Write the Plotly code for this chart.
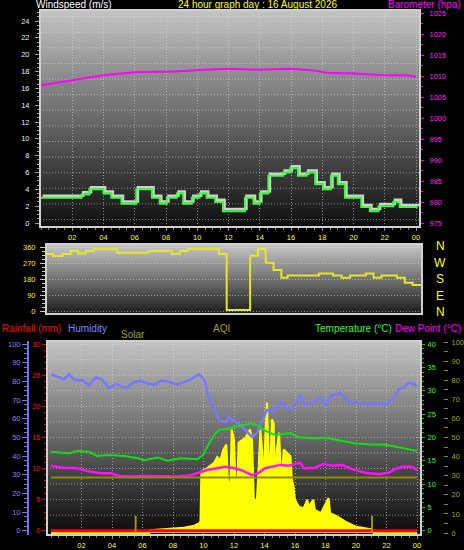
import plotly.graph_objects as go

W, H = 464, 550

# ---------------- data ----------------
hour_ticks = [2, 4, 6, 8, 10, 12, 14, 16, 18, 20, 22, 24]
hour_labels = ["02", "04", "06", "08", "10", "12", "14", "16", "18", "20", "22", "00"]

wind_hours = [0, 2.6, 3.1, 4.0, 4.5, 5.15, 6.1, 7.1, 7.6, 8.05, 8.7, 9.1, 9.65, 10.15, 10.6, 11.15, 11.65,
              13.05, 13.6, 14.0, 14.55, 15.5, 15.95, 16.45, 17.0, 17.55, 18.05, 18.55, 19.0, 19.45, 20.5,
              21.05, 21.6, 22.55, 22.95, 24.1]
wind_speed = [3.0, 3.4, 4.0, 3.5, 3.0, 2.3, 4.0, 3.0, 2.3, 3.0, 3.5, 2.3, 3.0, 3.5, 3.0, 2.5, 1.4,
              3.0, 2.3, 3.5, 5.6, 6.0, 6.5, 5.6, 6.0, 4.6, 4.0, 5.6, 4.6, 3.0, 1.9,
              1.4, 2.0, 2.5, 1.9, 1.9]

baro_hours = [0, 2, 4, 6, 8.5, 10.5, 12, 13.8, 15, 16, 17.5, 18.3, 20, 22, 23.4, 24]
baro_hpa = [1007.8, 1009.0, 1010.2, 1010.9, 1011.1, 1011.5, 1011.7, 1011.5, 1011.7, 1011.7, 1011.3,
            1010.8, 1010.6, 1010.2, 1010.2, 1009.8]

dir_hours = [0, 0.4, 1.0, 1.5, 2.0, 2.5, 3.0, 4.5, 6.5, 8.0, 8.5, 9.0, 11.0, 11.5, 13.0, 13.5, 14.0,
             14.5, 15.0, 15.4, 17.4, 18.3, 18.85, 19.4, 20.4, 20.9, 21.4, 22.4, 22.9, 23.4, 24.0]
dir_deg = [322, 311, 322, 339, 326, 340, 350, 330, 340, 322, 339, 350, 322, 10, 313, 350, 274,
           233, 190, 202, 213, 202, 190, 202, 213, 190, 202, 190, 162, 149, 149]
dir_ticks = [0, 90, 180, 270, 360]
compass = ["N", "W", "S", "E", "N"]

hum_hours = [0, 0.85, 1.18, 1.51, 2.05, 2.49, 2.93, 3.36, 3.8, 4.24, 4.9, 5.33, 5.77, 6.21, 6.75, 7.19,
             7.74, 8.28, 8.83, 9.27, 9.7, 10.03, 10.36, 10.69, 11.02, 11.45, 11.67, 12.0, 12.3, 12.85,
             13.18, 13.5, 13.84, 14.16, 14.6, 15.04, 15.37, 15.9, 16.35, 16.57, 17.1, 17.66, 17.99,
             18.43, 18.97, 19.52, 20.18, 20.83, 21.49, 22.03, 22.47, 22.8, 23.13, 23.46, 23.78, 24.0]
hum_pct = [83.9, 81.1, 83.9, 80.7, 80.7, 77.9, 82.2, 80.9, 76.3, 78.6, 76.3, 79.0, 80.3, 79.3, 78.0,
           80.3, 79.8, 78.4, 79.8, 81.6, 83.8, 81.1, 70.9, 65.6, 59.3, 58.0, 61.1, 58.4, 57.5, 53.0,
           50.3, 52.2, 58.4, 64.6, 63.7, 69.1, 65.6, 65.6, 72.7, 67.3, 68.2, 71.4, 67.3, 72.7, 73.6,
           69.1, 68.6, 67.3, 68.2, 67.8, 70.9, 75.7, 76.6, 79.3, 78.6, 77.1]

temp_hours = [0, 1.18, 1.7, 2.49, 3.0, 3.9, 4.8, 5.7, 6.1, 7.0, 7.6, 8.5, 9.6, 9.97, 10.36, 10.69,
              11.02, 11.56, 12.0, 12.52, 13.18, 13.62, 14.05, 14.7, 15.15, 15.7, 16.24, 17.1, 18.2,
              19.08, 19.96, 20.83, 21.92, 22.8, 23.46, 24.0]
temp_c = [16.9, 16.6, 17.1, 16.9, 16.0, 16.2, 16.0, 15.5, 15.1, 15.7, 15.0, 15.5, 15.3, 16.2, 18.7,
          20.5, 21.6, 21.8, 22.2, 22.5, 23.0, 22.4, 21.4, 20.5, 20.7, 20.9, 20.0, 19.8, 19.8, 19.3,
          18.7, 18.5, 18.4, 17.9, 17.4, 17.1]

dew_hours = [0, 0.85, 1.7, 2.35, 3.2, 3.9, 4.57, 5.2, 6.1, 7.19, 8.28, 9.16, 9.7, 10.25, 10.9, 11.45,
             12.0, 12.52, 13.18, 13.62, 14.05, 14.5, 15.04, 15.59, 16.35, 16.57, 17.3, 17.88, 18.43,
             19.08, 19.74, 20.6, 21.49, 22.14, 22.58, 23.01, 23.67, 24.0]
dew_c = [13.9, 13.5, 13.4, 12.8, 12.3, 12.3, 11.7, 11.6, 11.7, 11.6, 11.6, 11.9, 12.4, 13.0, 13.4,
         13.7, 13.4, 12.9, 11.9, 12.4, 13.4, 13.7, 14.1, 13.9, 14.6, 13.4, 13.5, 14.3, 13.9, 14.1,
         13.2, 12.4, 12.1, 12.4, 13.2, 13.7, 13.7, 13.0]

solar_hours = [0, 6.45, 6.5, 7.6, 8.7, 9.4, 9.7, 9.8, 9.86, 10.25, 10.69, 10.9, 11.1, 11.3, 11.5,
               11.6, 11.75, 11.85, 12.0, 12.09, 12.2, 12.3, 12.74, 13.05, 13.18, 13.3, 13.5, 13.62,
               13.73, 13.84, 13.95, 14.05, 14.16, 14.27, 14.37, 14.49, 14.6, 14.7, 14.8, 14.96, 15.1,
               15.26, 15.48, 15.7, 15.8, 15.9, 16.0, 16.25, 16.57, 16.8, 16.9, 17.2, 17.3, 17.7, 18.2,
               18.3, 18.8, 19.3, 20.0, 20.5, 21.05, 21.15, 24.0]
solar_wm2 = [0, 0, 15, 22, 28, 38, 50, 60, 323, 340, 367, 398, 380, 437, 463,
             279, 209, 542, 489, 279, 191, 472, 498, 542, 489, 174, 174, 349,
             542, 437, 262, 489, 683, 419, 314, 595, 574, 210, 437, 525, 262,
             437, 419, 402, 279, 244, 174, 138, 130, 174, 138, 174, 121, 104, 183,
             104, 86, 60, 33, 25, 19, 0, 0]

aqi_hours = [0, 24]
aqi_vals = [29, 29]
spike_hours = [5.55, 21.05]
spike_vals = [9, 9]

rain_hours = [0, 24]
rain_mm = [0, 0]

# ---------------- layout helpers ----------------
def px(x):
    return x / W


def py(y):
    return 1 - y / H


def lin_range(p0, v0, p1, v1, a, b):
    k = (v1 - v0) / (p1 - p0)
    return [v0 + (a - p0) * k, v0 + (b - p0) * k]


TOP = dict(l=40, r=420, t=10, b=227)
MID = dict(l=46, r=422, t=244, b=314)
BOT = dict(l=47, r=421, t=341, b=535)

FONT = "Liberation Sans"
GRID = "rgba(225,225,225,0.55)"
shapes = []


def gradient(p, c_top, c_bot, step=2):
    y = p["t"]
    while y < p["b"]:
        y2 = min(y + step, p["b"])
        frac = ((y + y2) / 2 - p["t"]) / (p["b"] - p["t"])
        c = round(c_top + (c_bot - c_top) * frac)
        shapes.append(dict(type="rect", xref="paper", yref="paper", x0=px(p["l"]), x1=px(p["r"]),
                           y0=py(y2 + 0.4), y1=py(y), fillcolor=f"rgb({c},{c},{c})",
                           line=dict(width=0), layer="below"))
        y = y2


def hgrid(p, ys):
    for y in ys:
        shapes.append(dict(type="line", xref="paper", yref="paper", x0=px(p["l"]), x1=px(p["r"]),
                           y0=py(y), y1=py(y), line=dict(color=GRID, width=1, dash="1px,2px"),
                           layer="below"))


def border(p):
    shapes.append(dict(type="rect", xref="paper", yref="paper", x0=px(p["l"]), x1=px(p["r"]),
                       y0=py(p["b"]), y1=py(p["t"]), line=dict(color="#d0d0d0", width=2),
                       fillcolor="rgba(0,0,0,0)", layer="above"))


gradient(TOP, 196, 14)
gradient(MID, 200, 28)
gradient(BOT, 196, 10)
hgrid(TOP, [219.5 - 15.6 * k for k in range(14)])
hgrid(BOT, [530.7 - 15.55 * k for k in range(1, 13)])

fig = go.Figure()

# ---- top panel ----
fig.add_trace(go.Scatter(x=[h + 0.1 for h in wind_hours], y=[v + 0.25 for v in wind_speed],
                         mode="lines", line=dict(color="#cfcfcf", width=2.5, shape="hv"),
                         xaxis="x", yaxis="y", hoverinfo="skip"))
fig.add_trace(go.Scatter(x=wind_hours, y=wind_speed, mode="lines",
                         line=dict(color="#3cff3c", width=2, shape="hv"), xaxis="x", yaxis="y"))
fig.add_trace(go.Scatter(x=baro_hours, y=baro_hpa, mode="lines",
                         line=dict(color="#ff00ff", width=2), xaxis="x", yaxis="y2"))

# ---- middle panel ----
fig.add_trace(go.Scatter(x=dir_hours, y=dir_deg, mode="lines",
                         line=dict(color="#e6e628", width=2, shape="hv"), xaxis="x2", yaxis="y3"))

# ---- bottom panel ----
fig.add_trace(go.Scatter(x=solar_hours, y=solar_wm2, mode="lines", fill="tozeroy",
                         fillcolor="#ffff00", line=dict(color="#ffff00", width=2),
                         xaxis="x3", yaxis="y4"))
fig.add_trace(go.Scatter(x=rain_hours, y=rain_mm, mode="lines",
                         line=dict(color="#ff0000", width=3), xaxis="x3", yaxis="y5"))
fig.add_trace(go.Scatter(x=hum_hours, y=hum_pct, mode="lines",
                         line=dict(color="#7878ff", width=2.5), xaxis="x3", yaxis="y6"))
fig.add_trace(go.Scatter(x=temp_hours, y=temp_c, mode="lines",
                         line=dict(color="#10e010", width=2), xaxis="x3", yaxis="y7"))
fig.add_trace(go.Scatter(x=dew_hours, y=dew_c, mode="lines",
                         line=dict(color="#ff10ff", width=2.5), xaxis="x3", yaxis="y7"))
fig.add_trace(go.Scatter(x=aqi_hours, y=aqi_vals, mode="lines",
                         line=dict(color="#8c8c00", width=2), xaxis="x3", yaxis="y8"))
fig.add_trace(go.Bar(x=spike_hours, y=spike_vals, width=0.12, marker=dict(color="#a0a000", line=dict(width=0)),
                     xaxis="x3", yaxis="y8"))

tf = lambda c: dict(family=FONT, size=7.5, color=c)


def xax(p, r, labels=True, grid=True, anchor="y"):
    d = dict(domain=[px(p["l"]), px(p["r"])], range=r, anchor=anchor,
             tickmode="array", tickvals=hour_ticks, ticktext=hour_labels,
             showticklabels=labels, tickfont=tf("#ffff00"),
             ticks="outside" if labels else "", ticklen=3, tickcolor="#909090",
             showgrid=grid, gridcolor=GRID, griddash="1px,2px", gridwidth=1,
             zeroline=False, showline=False, fixedrange=True, automargin=False)
    if labels:
        d["minor"] = dict(tickmode="linear", tick0=0, dtick=0.5, ticks="outside", ticklen=2,
                          tickcolor="#808080", showgrid=False)
    return d


def yax(rng, vals, color, tickcolor, ticklen=4, minor_dtick=None, minor_len=2, standoff=0, **kw):
    d = dict(range=rng, tickmode="array", tickvals=vals, tickfont=tf(color),
             ticks="outside", ticklen=ticklen, tickcolor=tickcolor, tickwidth=1,
             ticklabelstandoff=standoff,
             showgrid=False, zeroline=False, showline=False, fixedrange=True, automargin=False)
    if minor_dtick:
        d["minor"] = dict(tickmode="linear", tick0=0, dtick=minor_dtick, ticks="outside",
                          ticklen=minor_len, tickcolor=tickcolor, showgrid=False)
    d.update(kw)
    return d


fig.update_layout(
    width=W, height=H, template="none", autosize=False,
    margin=dict(l=0, r=0, t=0, b=0, pad=0),
    paper_bgcolor="#000000", plot_bgcolor="rgba(0,0,0,0)",
    showlegend=False, hovermode=False, barmode="overlay",
    font=dict(family=FONT, size=11, color="#ffffff"),
    xaxis=xax(TOP, lin_range(41, 0, 416, 24, TOP["l"], TOP["r"]), anchor="y"),
    yaxis=yax(lin_range(223, 0, 21, 24, TOP["b"], TOP["t"]), list(range(0, 25, 2)), "#e4eeff",
              "#a0a0a0", ticklen=4, minor_dtick=0.5, minor_len=2, standoff=4,
              domain=[py(TOP["b"]), py(TOP["t"])], anchor="x"),
    yaxis2=yax(lin_range(223, 975, 13, 1025, TOP["b"], TOP["t"]), list(range(975, 1026, 5)),
               "#ff20ff", "#ff00ff", ticklen=3, minor_dtick=2.5, minor_len=2, standoff=4,
               overlaying="y", side="right", anchor="x"),
    xaxis2=xax(MID, lin_range(47, 0, 422, 24, MID["l"], MID["r"]), labels=False, grid=False,
               anchor="y3"),
    yaxis3=yax(lin_range(311.7, 0, 247.3, 360, MID["b"], MID["t"]), dir_ticks, "#f0f020",
               "#e0e020", ticklen=5, minor_dtick=22.5, minor_len=3, standoff=3,
               domain=[py(MID["b"]), py(MID["t"])], anchor="x2",
               showgrid=True, gridcolor=GRID, griddash="1px,2px"),
    xaxis3=xax(BOT, lin_range(51, 0, 417, 24, BOT["l"], BOT["r"]), anchor="y4"),
    yaxis4=dict(range=lin_range(533, 0, 342, 1000, BOT["b"], BOT["t"]), visible=False,
                domain=[py(BOT["b"]), py(BOT["t"])], anchor="x3", fixedrange=True),
    yaxis5=yax(lin_range(530.7, 0, 344, 30, BOT["b"], BOT["t"]), list(range(0, 31, 5)), "#ff1010",
               "#e00000", ticklen=4, minor_dtick=1, minor_len=2,
               overlaying="y4", side="left", anchor="x3"),
    yaxis6=yax(lin_range(530.7, 0, 344, 100, BOT["b"], BOT["t"]), list(range(0, 101, 10)),
               "#8080ff", "#7070ff", ticklen=5, minor_dtick=2.5, minor_len=3,
               overlaying="y4", side="left", anchor="free", position=px(28),
               showline=True, linecolor="#7070ff", linewidth=2),
    yaxis7=yax(lin_range(530.7, 0, 344, 40, BOT["b"], BOT["t"]), list(range(0, 41, 5)), "#20ff20",
               "#00d000", ticklen=3, minor_dtick=1, minor_len=2, standoff=1,
               overlaying="y4", side="right", anchor="x3"),
    yaxis8=yax(lin_range(533, 0, 342, 100, BOT["b"], BOT["t"]), list(range(0, 101, 10)),
               "#a0a020", "#909000", ticklen=4, minor_dtick=5, minor_len=4, standoff=2,
               overlaying="y4", side="right", anchor="free", position=px(443)),
)

border(TOP)
border(MID)
border(BOT)
fig.update_layout(shapes=shapes)

ann = []


def text(x, y, s, color, anchor="left", size=10.5):
    ann.append(dict(x=px(x), y=py(y), xref="paper", yref="paper", text=s, showarrow=False,
                    xanchor=anchor, yanchor="middle", font=dict(family=FONT, size=size, color=color)))


text(34, 5, "Windspeed (m/s)", "#ffffff", size=10)
text(257, 5, "24 hour graph day : 16 August 2026", "#ffff00", "center", size=10)
text(463, 5, "Barometer (hpa)", "#ff00ff", "right", size=10)
for i, letter in enumerate(compass):
    text(440, 246 + 16.5 * i, letter, "#ffff00", "center", 12)
text(0, 328, "Rainfall (mm)", "#ff0000", size=10)
text(66, 328, "Humidity", "#8080ff", size=10)
text(119, 334, "Solar", "#a0a020", size=10)
text(221, 328, "AQI", "#a0a020", "center", size=10)
text(313, 328, "Temperature (°C)", "#20ff20", size=10)
text(393, 328, "Dew Point (°C)", "#ff00ff", size=10)
fig.update_layout(annotations=ann)

fig.write_html("out.html", config={"displayModeBar": False, "staticPlot": True},
               post_script="document.body.style.margin='0px';document.body.style.padding='0px';")
